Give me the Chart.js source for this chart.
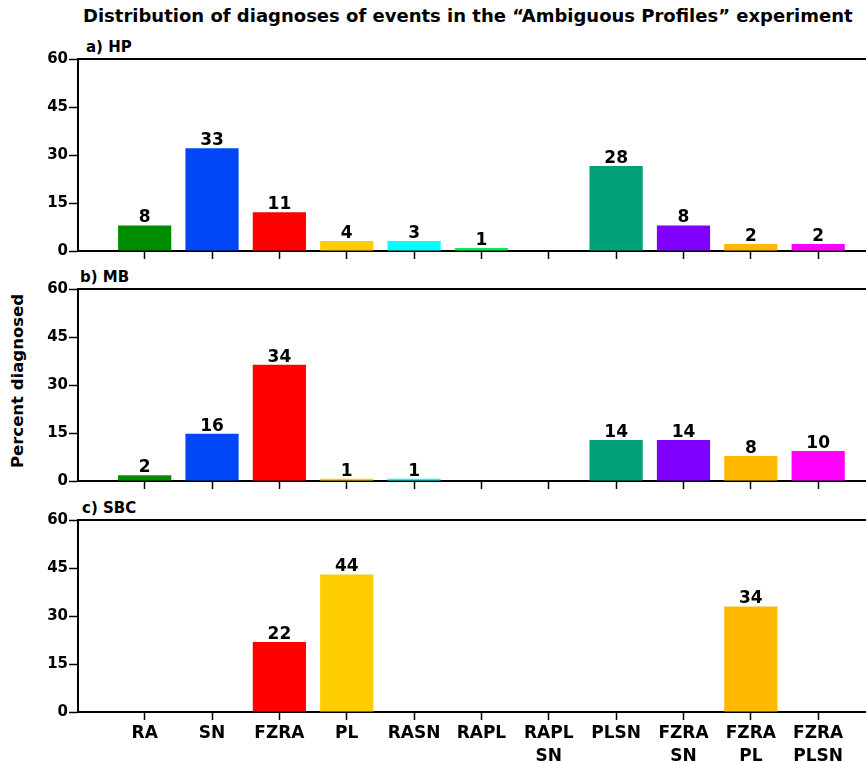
<!DOCTYPE html>
<html>
<head>
<meta charset="utf-8">
<script src="https://cdn.jsdelivr.net/npm/chart.js@4"></script>
<style>
  body { margin: 0; background: #fff; }
  #wrap { position: relative; width: 866px; height: 762px; font-family: "DejaVu Sans", sans-serif; font-weight: bold; color: #000; }
  #wrap canvas { position: absolute; left: 0; }
  .txt { position: absolute; white-space: nowrap; line-height: 1; }
</style>
</head>
<body>
<div id="wrap">
  <div class="txt" id="title" style="left:83px; top:7px; font-size:18px;">Distribution of diagnoses of events in the “Ambiguous Profiles” experiment</div>
  <div class="txt" style="left:86px; top:40px; font-size:15px;">a) HP</div>
  <div class="txt" style="left:80px; top:270px; font-size:15px;">b) MB</div>
  <div class="txt" style="left:82px; top:501px; font-size:15px;">c) SBC</div>
  <div class="txt" style="left:18px; top:381px; font-size:16.5px; transform: translate(-50%, -50%) rotate(-90deg);">Percent diagnosed</div>
  <canvas id="chartHP" width="866" height="224" style="top:39px"></canvas>
  <canvas id="chartMB" width="866" height="224" style="top:269px"></canvas>
  <canvas id="chartSBC" width="866" height="262" style="top:500px"></canvas>
</div>
<script>
const categories = ["RA", "SN", "FZRA", "PL", "RASN", "RAPL", "RAPL SN", "PLSN", "FZRA SN", "FZRA PL", "FZRA PLSN"];
const barColors = ["#008c00", "#0046f5", "#ff0000", "#ffcc00", "#00ffff", "#00f050", "#888888", "#00a07a", "#7f00ff", "#ffb800", "#ff00ff"];

// bar heights as drawn, and the numbers printed above them
const hpValues = [8.0, 32.1, 12.1, 3.1, 3.1, 0.9, null, 26.6, 8.0, 2.2, 2.2];
const hpLabels = ["8", "33", "11", "4", "3", "1", null, "28", "8", "2", "2"];
const mbValues = [1.8, 14.8, 36.3, 0.7, 0.7, null, null, 12.8, 12.8, 7.8, 9.4];
const mbLabels = ["2", "16", "34", "1", "1", null, null, "14", "14", "8", "10"];
const sbcValues = [null, null, 21.9, 43.0, null, null, null, null, null, 33.0, null];
const sbcLabels = [null, null, "22", "44", null, null, null, null, null, "34", null];

const yTicks = [0, 15, 30, 45, 60];

const FONT = "DejaVu Sans";

const topLine = {
    id: "topLine",
    afterDraw(chart) {
        const { ctx, chartArea } = chart;
        ctx.save();
        ctx.strokeStyle = "#000";
        ctx.lineWidth = 2;
        ctx.beginPath();
        ctx.moveTo(chartArea.left - 1, chartArea.top);
        ctx.lineTo(chart.width, chartArea.top);
        ctx.stroke();
        ctx.restore();
    }
};

const valueLabels = {
    id: "valueLabels",
    afterDatasetsDraw(chart) {
        const { ctx } = chart;
        const labels = chart.data.datasets[0].valueLabels;
        const meta = chart.getDatasetMeta(0);
        ctx.save();
        ctx.fillStyle = "#000";
        ctx.font = `bold 17px "${FONT}"`;
        ctx.textAlign = "center";
        ctx.textBaseline = "alphabetic";
        meta.data.forEach((bar, i) => {
            if (labels[i] == null) return;
            ctx.fillText(labels[i], bar.x, bar.y - 3);
        });
        ctx.restore();
    }
};

const createPanel = (id, values, labels, showX) => {
    const ctx = document.getElementById(id);
    return new Chart(ctx, {
        type: "bar",
        data: {
            datasets: [{
                data: values.map((v, i) => ({ x: i, y: v })),
                valueLabels: labels,
                backgroundColor: barColors,
                borderWidth: 0,
                barPercentage: 0.79,
                categoryPercentage: 1
            }]
        },
        options: {
            responsive: false,
            animation: false,
            layout: { padding: { top: 20, right: 0, left: 0, bottom: 0 } },
            plugins: { legend: { display: false }, tooltip: { enabled: false } },
            scales: {
                x: {
                    type: "linear",
                    min: -0.99,
                    max: 10.71,
                    offset: false,
                    afterBuildTicks: (axis) => { axis.ticks = categories.map((c, i) => ({ value: i })); },
                    afterFit: (axis) => { axis.height = showX ? 50 : 12; },
                    border: { color: "#000", width: 2 },
                    grid: { offset: false, drawOnChartArea: false, drawTicks: true, tickLength: 8, tickColor: "#000", tickWidth: 1.5 },
                    ticks: {
                        display: showX,
                        autoSkip: false,
                        maxRotation: 0,
                        minRotation: 0,
                        padding: 2,
                        color: "#000",
                        font: { family: FONT, weight: "bold", size: 17, lineHeight: 1.37 },
                        callback: (v) => categories[v] ? categories[v].split(" ") : ""
                    }
                },
                y: {
                    min: 0,
                    max: 60,
                    afterBuildTicks: (axis) => { axis.ticks = yTicks.map((v) => ({ value: v })); },
                    afterFit: (axis) => { axis.width = 78; },
                    border: { color: "#000", width: 2 },
                    grid: { drawOnChartArea: false, tickLength: 9, tickColor: "#000", tickWidth: 1.5 },
                    ticks: {
                        padding: 1,
                        color: "#000",
                        font: { family: FONT, weight: "bold", size: 15 }
                    }
                }
            }
        },
        plugins: [topLine, valueLabels]
    });
};

createPanel("chartHP", hpValues, hpLabels, false);
createPanel("chartMB", mbValues, mbLabels, false);
createPanel("chartSBC", sbcValues, sbcLabels, true);
</script>
</body>
</html>
